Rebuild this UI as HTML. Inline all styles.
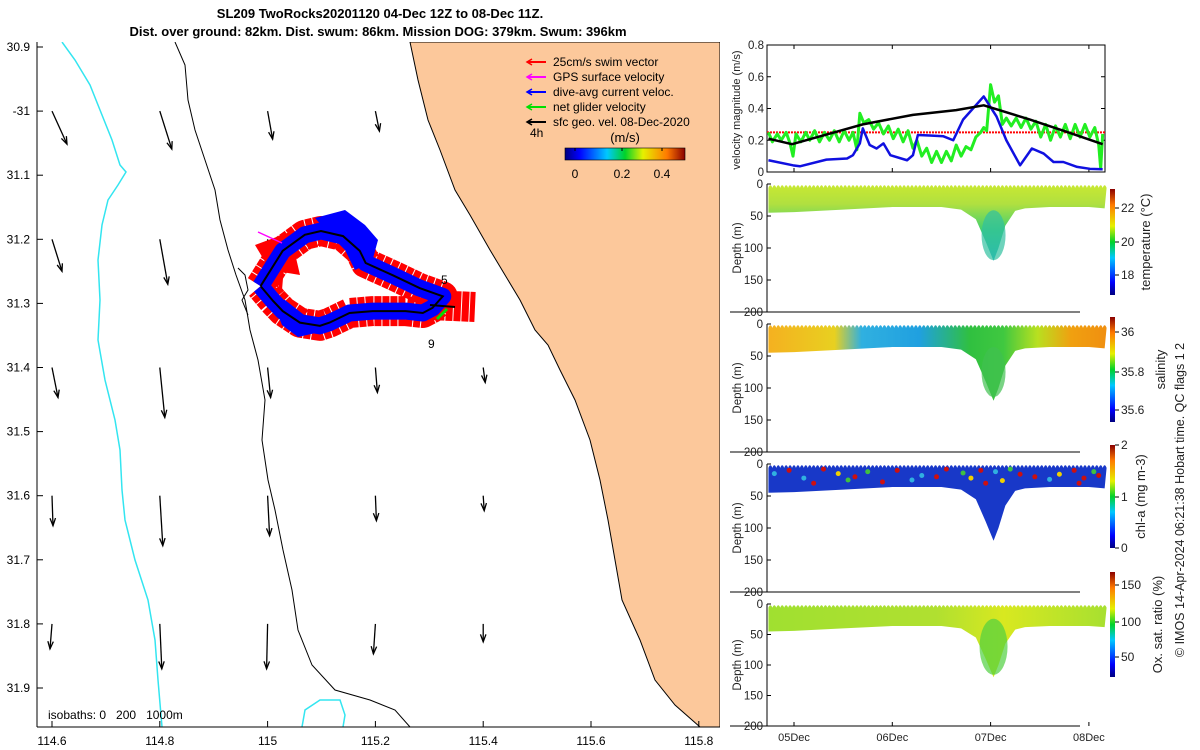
<!DOCTYPE html>
<html><head><meta charset="utf-8">
<style>
html,body{margin:0;padding:0;background:#fff;}
svg{display:block;font-family:"Liberation Sans",sans-serif;}
</style></head>
<body>
<svg id="root" width="1200" height="750" viewBox="0 0 1200 750" xmlns="http://www.w3.org/2000/svg">
<defs>
<linearGradient id="jetH" x1="0" y1="0" x2="1" y2="0">
<stop offset="0" stop-color="#00007f"/><stop offset="0.12" stop-color="#0000ff"/><stop offset="0.35" stop-color="#00c8ff"/><stop offset="0.5" stop-color="#00d22a"/><stop offset="0.65" stop-color="#e6f000"/><stop offset="0.85" stop-color="#ff7a00"/><stop offset="1" stop-color="#8a0000"/>
</linearGradient>
<linearGradient id="jetV" x1="0" y1="1" x2="0" y2="0">
<stop offset="0" stop-color="#00007f"/><stop offset="0.12" stop-color="#0000ff"/><stop offset="0.35" stop-color="#00c8ff"/><stop offset="0.5" stop-color="#00d22a"/><stop offset="0.65" stop-color="#e6f000"/><stop offset="0.85" stop-color="#ff7a00"/><stop offset="1" stop-color="#8a0000"/>
</linearGradient>
<linearGradient id="gTemp" x1="0" y1="0" x2="0" y2="1"><stop offset="0" stop-color="#c8e832"/><stop offset="0.25" stop-color="#b0e040"/><stop offset="0.6" stop-color="#40d070"/><stop offset="1" stop-color="#20b0d0"/></linearGradient>
<linearGradient id="gSal" x1="767" y1="0" x2="1105" y2="0" gradientUnits="userSpaceOnUse">
<stop offset="0" stop-color="#f5b020"/><stop offset="0.2" stop-color="#e8d020"/><stop offset="0.28" stop-color="#30b0e0"/><stop offset="0.45" stop-color="#20a0e0"/><stop offset="0.6" stop-color="#30c040"/><stop offset="0.7" stop-color="#40c840"/><stop offset="0.8" stop-color="#b8e020"/><stop offset="0.9" stop-color="#f0a010"/><stop offset="1" stop-color="#f09010"/></linearGradient>
<linearGradient id="gOx" x1="767" y1="0" x2="1105" y2="0" gradientUnits="userSpaceOnUse">
<stop offset="0" stop-color="#a0e030"/><stop offset="0.5" stop-color="#b0e030"/><stop offset="0.7" stop-color="#d8e820"/><stop offset="1" stop-color="#a8e030"/></linearGradient>
<clipPath id="mapClip"><rect x="37" y="42" width="683" height="685"/></clipPath>
<clipPath id="velClip"><rect x="767" y="45" width="338" height="127"/></clipPath>
</defs>

<text x="380" y="18" text-anchor="middle" font-size="13" font-weight="bold">SL209 TwoRocks20201120 04-Dec 12Z to 08-Dec 11Z.</text>
<text x="378" y="36" text-anchor="middle" font-size="13" font-weight="bold">Dist. over ground: 82km. Dist. swum: 86km. Mission DOG: 379km. Swum: 396km</text>

<g id="map"></g>
<g id="vel"></g>
<g id="sections"></g>
<g id="cbars"></g>
</svg>
<script>
// ---------- MAP DATA ----------
const lonTicks = [114.6, 114.8, 115, 115.2, 115.4, 115.6, 115.8];
const lonTickLabels = ["114.6","114.8","115","115.2","115.4","115.6","115.8"];
const latTicks = [30.9, 31, 31.1, 31.2, 31.3, 31.4, 31.5, 31.6, 31.7, 31.8, 31.9];
const latTickLabels = ["30.9","-31","31.1","31.2","31.3","31.4","31.5","31.6","31.7","31.8","31.9"];
const arrowLon = [114.6,114.8,115.0,115.2, 114.6,114.8,115.0, 114.6,114.8,115.0,115.2,115.4, 114.6,114.8,115.0,115.2,115.4, 114.6,114.8,115.0,115.2,115.4];
const arrowLat = [31.0,31.0,31.0,31.0, 31.2,31.2,31.2, 31.4,31.4,31.4,31.4,31.4, 31.6,31.6,31.6,31.6,31.6, 31.8,31.8,31.8,31.8,31.8];
const arrowU = [0.15,0.12,0.05,0.04, 0.10,0.08,0.02, 0.06,0.05,0.03,0.02,0.02, 0.01,0.03,0.02,0.01,0.01, -0.02,0.02,-0.01,-0.02,0.0];
const arrowV = [-0.33,-0.38,-0.28,-0.20, -0.32,-0.45,-0.25, -0.30,-0.50,-0.30,-0.25,-0.15, -0.30,-0.50,-0.40,-0.25,-0.15, -0.25,-0.45,-0.45,-0.30,-0.18];
const trackLon = [114.987,115.028,115.069,115.099,115.140,115.171,115.182,115.232,115.282,115.325,115.306,115.288,115.256,115.195,115.152,115.115,115.097,115.060,115.028,115.010,114.987];
const trackLat = [31.273,31.218,31.193,31.187,31.195,31.218,31.237,31.256,31.276,31.289,31.307,31.315,31.312,31.312,31.315,31.330,31.335,31.330,31.312,31.296,31.273];

const lonX = lon => 52 + (lon - 114.6) / 0.2 * 107.8;
const latY = lat => 47 + (lat - 30.9) / 0.1 * 64.1;
const NS = "http://www.w3.org/2000/svg";
function mk(parent, tag, attrs, text){
  const e = document.createElementNS(NS, tag);
  for (const k in attrs) e.setAttribute(k, attrs[k]);
  if (text !== undefined) e.textContent = text;
  parent.appendChild(e); return e;
}
const map = document.getElementById('map');
const mg = mk(map, 'g', {'clip-path':'url(#mapClip)'});



const land = mk(mg,'path',{d:"M410,42 L418,80 L428,120 L440,150 L455,190 L470,215 L490,250 L505,275 L520,300 L535,330 L548,345 L560,370 L575,400 L590,440 L600,480 L608,520 L615,560 L622,600 L640,640 L655,680 L675,705 L700,727 L720,727 L720,42 Z",fill:"#fcc89b",stroke:"#000","stroke-width":"1"});


const iso0 = mk(mg,'path',{d:"M62,42 L75,60 L90,85 L100,110 L112,140 L120,165 L126,172 L118,185 L108,200 L102,225 L98,260 L100,300 L98,340 L105,380 L115,420 L120,450 L122,490 L125,520 L135,560 L148,600 L155,640 L158,680 L162,727 M302,727 L305,710 L320,700 L340,700 L345,715 L343,727",fill:"none",stroke:"#33e5f0","stroke-width":"1.5"});


const iso1 = mk(mg,'path',{d:"M175,42 L185,65 L188,100 L195,130 L205,160 L215,190 L220,220 L228,250 L236,275 L245,300 L250,330 L258,360 L265,400 L262,440 L268,480 L275,510 L283,550 L292,590 L298,630 L312,665 L335,690 L370,700 L395,710 L410,727",fill:"none",stroke:"#000","stroke-width":"1"});


const iso2 = mk(mg,'path',{d:"M238,268 L245,275 L248,290 L242,300 L248,315",fill:"none",stroke:"#000","stroke-width":"1"});



for (let i=0;i<arrowLon.length;i++){
  const x0=lonX(arrowLon[i]), y0=latY(arrowLat[i]);
  const x1=x0+arrowU[i]*100, y1=y0-arrowV[i]*100;
  const g=mk(mg,'g',{});
  
  
  mk(g,'line',{x1:x0,y1:y0,x2:x1,y2:y1,stroke:"#000","stroke-width":"1.3"});
  const a=Math.atan2(y1-y0,x1-x0), h=8;
  const p1=[x1-h*Math.cos(a-0.35),y1-h*Math.sin(a-0.35)], p2=[x1-h*Math.cos(a+0.35),y1-h*Math.sin(a+0.35)];
  mk(g,'path',{d:`M${p1} L${x1},${y1} L${p2}`,fill:"none",stroke:"#000","stroke-width":"1.3"});
}
const tp = trackLon.map((l,i)=>[lonX(l),latY(trackLat[i])]);
const tpath = "M"+tp.map(p=>p.join(',')).join(' L');
const red = mk(mg,'path',{d:tpath+" M430,305 L475,307",fill:"none",stroke:"#ff0000","stroke-width":"30","stroke-linejoin":"round","stroke-dasharray":"7 1"});


mk(mg,'path',{d:"M255,245 L290,232 L300,275 L270,270 Z M262,262 L285,255 L282,290 Z",fill:"#ff0000"});
const blue = mk(mg,'path',{d:tpath,fill:"none",stroke:"#0000ff","stroke-width":"17","stroke-linejoin":"round"});


mk(mg,'path',{d:"M315,218 L345,210 L365,225 L378,240 L372,262 L355,270 L345,250 L330,235 Z",fill:"#0000ff"});
mk(mg,'path',{d:"M272,300 L282,325 L298,337 L320,332 L308,318 L285,300 Z",fill:"#0000ff"});
const blk = mk(mg,'path',{d:tpath+" M430,305 L455,307",fill:"none",stroke:"#000","stroke-width":"2"});


mk(mg,'line',{x1:282,y1:243,x2:258,y2:232,stroke:"#ff00ff","stroke-width":"1.5"});
mk(mg,'line',{x1:447,y1:309,x2:437,y2:319,stroke:"#00e000","stroke-width":"3"});

[["5",441,284],["9",428,348],["4h",530,137]].forEach(t=>{
  const e=mk(mg,'text',{x:t[1],y:t[2],"font-size":"12"},t[0]);
  
  
});
const iso = mk(mg,'text',{x:48,y:719,"font-size":"12","xml:space":"preserve"},"isobaths: 0   200   1000m");
iso.setAttribute('style','white-space:pre');



const leg = mk(mg,'g',{});


[["25cm/s swim vector","#ff0000"],["GPS surface velocity","#ff00ff"],["dive-avg current veloc.","#0000ff"],["net glider velocity","#00e000"],["sfc geo. vel. 08-Dec-2020","#000000"]].forEach((r,i)=>{
  const y=62+i*15;
  const g=mk(leg,'g',{});
  
  
  mk(g,'line',{x1:528,y1:y,x2:546,y2:y,stroke:r[1],"stroke-width":"2"});
  mk(g,'path',{d:`M532,${y-3} L527,${y} L532,${y+3}`,fill:"none",stroke:r[1],"stroke-width":"1.5"});
  mk(g,'text',{x:553,y:y+4,"font-size":"12"},r[0]);
});
mk(mg,'text',{x:625,y:142,"font-size":"13","text-anchor":"middle"},"(m/s)");
mk(mg,'rect',{x:565,y:148,width:120,height:12,fill:"url(#jetH)",stroke:"#000","stroke-width":"0.6"});
[[575,"0"],[622,"0.2"],[662,"0.4"]].forEach(t=>{
  mk(mg,'line',{x1:t[0],y1:148,x2:t[0],y2:151,stroke:"#000"});
  mk(mg,'text',{x:t[0],y:178,"font-size":"12","text-anchor":"middle"},t[1]);
});

mk(map,'line',{x1:37,y1:42,x2:37,y2:727,stroke:"#000"});
mk(map,'line',{x1:37,y1:727,x2:720,y2:727,stroke:"#000"});
lonTicks.forEach((l,i)=>{
  const x=lonX(l);
  mk(map,'line',{x1:x,y1:727,x2:x,y2:721,stroke:"#000"});
  const e=mk(map,'text',{x:x,y:745,"font-size":"12","text-anchor":"middle"},lonTickLabels[i]);
  
  
});
latTicks.forEach((l,i)=>{
  const y=latY(l);
  mk(map,'line',{x1:37,y1:y,x2:43,y2:y,stroke:"#000"});
  const e=mk(map,'text',{x:30,y:y+4,"font-size":"12","text-anchor":"end"},latTickLabels[i]);
  
  
});

// ---------- VELOCITY CHART DATA ----------
const blackDay = [4.74,4.98,5.70,6.21,6.65,6.93,7.40,7.74,8.14];
const blackVal = [0.21,0.175,0.30,0.36,0.39,0.42,0.33,0.26,0.175];
const blueDay = [4.74,4.99,5.06,5.33,5.54,5.60,5.67,5.70,5.77,5.84,5.91,5.98,6.15,6.21,6.26,6.38,6.52,6.62,6.72,6.93,7.06,7.16,7.30,7.42,7.54,7.64,7.74,7.88,8.01,8.14];
const blueVal = [0.074,0.042,0.036,0.078,0.085,0.106,0.18,0.275,0.17,0.148,0.18,0.106,0.074,0.106,0.233,0.23,0.225,0.2,0.33,0.476,0.35,0.2,0.042,0.148,0.116,0.063,0.063,0.032,0.02,0.017];
const greenDay = [4.74,4.78,4.83,4.87,4.92,4.96,4.99,5.02,5.07,5.12,5.16,5.21,5.26,5.31,5.36,5.41,5.46,5.51,5.56,5.60,5.64,5.67,5.71,5.76,5.81,5.86,5.91,5.96,6.01,6.06,6.11,6.16,6.21,6.25,6.30,6.35,6.40,6.45,6.50,6.55,6.60,6.65,6.70,6.75,6.80,6.85,6.90,6.93,6.96,7.00,7.04,7.08,7.12,7.16,7.21,7.26,7.31,7.36,7.41,7.46,7.51,7.56,7.61,7.66,7.71,7.76,7.81,7.86,7.91,7.96,8.01,8.06,8.10,8.12,8.14];
const greenVal = [0.25,0.19,0.24,0.2,0.25,0.18,0.10,0.24,0.19,0.25,0.2,0.26,0.19,0.25,0.2,0.26,0.19,0.26,0.2,0.25,0.14,0.37,0.31,0.33,0.27,0.31,0.24,0.29,0.21,0.27,0.19,0.26,0.15,0.2,0.1,0.15,0.06,0.13,0.06,0.13,0.07,0.17,0.1,0.16,0.14,0.22,0.25,0.28,0.26,0.55,0.44,0.48,0.3,0.34,0.29,0.34,0.28,0.34,0.27,0.32,0.22,0.3,0.2,0.29,0.22,0.3,0.21,0.3,0.22,0.3,0.22,0.28,0.17,0.02,0.24];
const swimSpeed = [0.25, 0.25];
const swimDay = [4.725, 8.164];
const velTicks = [0, 0.2, 0.4, 0.6, 0.8];
const velTickLabels = ["0","0.2","0.4","0.6","0.8"];
const dateTicks = [5, 6, 7, 8];
const dateTickLabels = ["05Dec","06Dec","07Dec","08Dec"];

const dayX = d => 794 + (d - 5) * 98.3;
const velY = v => 172 - v / 0.8 * 127;
const vel = document.getElementById('vel');
mk(vel,'rect',{x:767,y:45,width:338,height:127,fill:"#fff",stroke:"#000","stroke-width":"1"});
velTicks.forEach((v,i)=>{
  mk(vel,'line',{x1:767,y1:velY(v),x2:771,y2:velY(v),stroke:"#000"});
  mk(vel,'line',{x1:1105,y1:velY(v),x2:1101,y2:velY(v),stroke:"#000"});
  const e=mk(vel,'text',{x:764,y:velY(v)+4,"font-size":"11.5","text-anchor":"end",fill:"#222"},velTickLabels[i]);
  
  
});
dateTicks.forEach(d=>{ mk(vel,'line',{x1:dayX(d),y1:172,x2:dayX(d),y2:168,stroke:"#000"}); mk(vel,'line',{x1:dayX(d),y1:45,x2:dayX(d),y2:49,stroke:"#000"}); });
const vl = mk(vel,'text',{transform:"translate(740,110) rotate(-90)","font-size":"11","text-anchor":"middle",fill:"#222"},"velocity magnitude (m/s)");


const vc = mk(vel,'g',{'clip-path':'url(#velClip)'});
function line(days, vals, color, w, name, dash){
  const d = "M"+days.map((t,i)=>dayX(t)+","+velY(vals[i])).join(" L");
  const e=mk(vc,'path',{d:d,fill:"none",stroke:color,"stroke-width":w,"stroke-linejoin":"round"});
  if(dash) e.setAttribute('stroke-dasharray',dash);
  
  
}
line(swimDay, swimSpeed, "#ff0000", 2, "swim-speed-line", "2 1");
line(greenDay, greenVal, "#22ee22", 3, "net-glider-speed-line");
line(blueDay, blueVal, "#1010e0", 2.5, "current-speed-line");
line(blackDay, blackVal, "#000", 2.5, "geo-speed-line");

// ---------- SECTIONS ----------
const profDay = [4.74,5.0,5.5,6.0,6.5,6.7,6.85,6.95,7.03,7.08,7.15,7.25,7.35,7.6,8.0,8.16];
const profBottom = [45,44,40,36,36,40,55,90,120,100,65,42,38,36,36,38];
const depthTicks = [0,50,100,150,200];
const panelTop = [184, 324, 464, 604];
const panelH = [128, 128, 128, 122];
const panelFill = ["url(#gTemp)","url(#gSal)","#1838c8","url(#gOx)"];
const panelNames = ["temperature-section","salinity-section","chlorophyll-section","oxygen-section"];
const chlDotDay = [4.8,4.95,5.1,5.2,5.3,5.45,5.55,5.62,5.75,5.9,6.05,6.2,6.3,6.45,6.55,6.72,6.8,6.9,6.95,7.05,7.12,7.2,7.3,7.45,7.6,7.7,7.85,7.9,7.95,8.05,8.1];
const chlDotDepth = [15,10,22,30,8,15,25,20,12,28,10,25,18,20,8,14,22,10,30,12,26,8,16,20,24,16,10,30,22,12,18];
const chlDotColor = ["#30b0e0","#cc1010","#30b0e0","#cc1010","#cc1010","#f0d000","#40c040","#cc1010","#40c040","#cc1010","#cc1010","#30b0e0","#30b0e0","#cc1010","#cc1010","#40c040","#f0d000","#cc1010","#cc1010","#30b0e0","#f0d000","#40c040","#cc1010","#cc1010","#30b0e0","#f0d000","#cc1010","#cc1010","#cc1010","#40c040","#cc1010"];
const sec = document.getElementById('sections');
panelTop.forEach((top,pi)=>{
  const g=mk(sec,'g',{});
  
  
  const dY = dep => top + dep/200*panelH[pi];
  let d = "M"+dayX(4.74)+","+dY(6);
  for(let t=4.74;t<=8.16;t+=0.04){ d += " Q"+dayX(t+0.02)+","+dY(-2)+" "+dayX(t+0.04)+","+dY(6); }
  for(let i=profDay.length-1;i>=0;i--) d += " L"+dayX(profDay[i])+","+dY(profBottom[i]);
  d+=" Z";
  mk(g,'path',{d:d,fill:panelFill[pi]});
  if(pi===0){ mk(g,'ellipse',{cx:dayX(7.03),cy:dY(80),rx:12,ry:25,fill:"#30c0a0",opacity:0.7}); }
  if(pi===1){ mk(g,'ellipse',{cx:dayX(7.03),cy:dY(75),rx:12,ry:25,fill:"#40c050",opacity:0.7}); }
  if(pi===2){ chlDotDay.forEach((t,i)=>{ const c=mk(g,'circle',{cx:dayX(t),cy:dY(chlDotDepth[i]),r:2.5,fill:chlDotColor[i]});   }); }
  if(pi===3){ mk(g,'ellipse',{cx:dayX(7.03),cy:dY(70),rx:14,ry:28,fill:"#50d040",opacity:0.7}); }
  mk(g,'line',{x1:767,y1:top,x2:767,y2:top+panelH[pi],stroke:"#000"});
  mk(g,'line',{x1:730,y1:top+panelH[pi],x2:1080,y2:top+panelH[pi],stroke:"#000"});
  depthTicks.forEach(dp=>{
    mk(g,'line',{x1:767,y1:dY(dp),x2:771,y2:dY(dp),stroke:"#000"});
    const e=mk(g,'text',{x:763,y:dY(dp)+4,"font-size":"11.5","text-anchor":"end",fill:"#222"},String(dp));
    
    
  });
  const yl=mk(g,'text',{transform:`translate(741,${top+panelH[pi]/2}) rotate(-90)`,"font-size":"11.5","text-anchor":"middle",fill:"#222"},"Depth (m)");
  
  
});
dateTicks.forEach((d,i)=>{
  mk(sec,'line',{x1:dayX(d),y1:726,x2:dayX(d),y2:722,stroke:"#000"});
  const e=mk(sec,'text',{x:dayX(d),y:741,"font-size":"11","text-anchor":"middle",fill:"#222"},dateTickLabels[i]);
  
  
});

// ---------- COLORBARS ----------
const cbTop = [189, 317, 445, 572];
const cbBottom = [295, 422, 548, 677];
const cbTickPos = [[208,242,275],[332,372,410],[445,497,548],[585,622,657]];
const cbTickLabels = [["22","20","18"],["36","35.8","35.6"],["2","1","0"],["150","100","50"]];
const cbTitles = ["temperature (°C)","salinity","chl-a (mg m-3)","Ox. sat. ratio (%)"];
const cbTitleX = [1150, 1165, 1145, 1162];
const cb = document.getElementById('cbars');
cbTop.forEach((t,i)=>{
  const g=mk(cb,'g',{});
  
  
  mk(g,'rect',{x:1110,y:t,width:5,height:cbBottom[i]-t,fill:"url(#jetV)"});
  cbTickPos[i].forEach((p,j)=>{
    mk(g,'line',{x1:1115,y1:p,x2:1119,y2:p,stroke:"#000"});
    mk(g,'text',{x:1121,y:p+4,"font-size":"12",fill:"#222"},cbTickLabels[i][j]);
  });
  const tt=mk(g,'text',{transform:`translate(${cbTitleX[i]},${(t+cbBottom[i])/2}) rotate(-90)`,"font-size":"13","text-anchor":"middle",fill:"#222"},cbTitles[i]);
  
  
});
const cr = mk(cb,'text',{transform:"translate(1184,500) rotate(-90)","font-size":"12.5","text-anchor":"middle",fill:"#222"},"© IMOS 14-Apr-2024 06:21:38 Hobart time. QC flags 1  2");


</script>
</body></html>
